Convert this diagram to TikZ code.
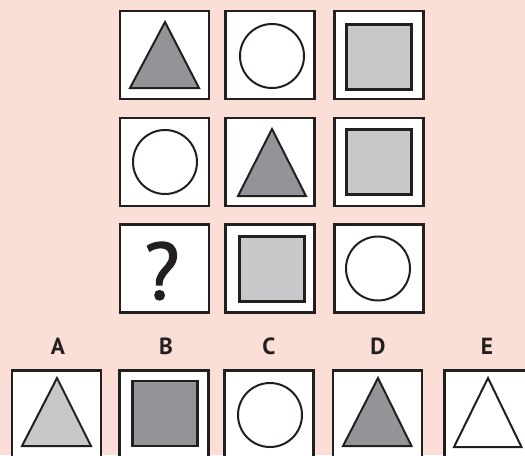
\documentclass[tikz,border=0pt]{standalone}
\usepackage{fontspec}
\setmainfont{PT Sans}
\newfontfamily\qmfont[FakeBold=1.8]{PT Sans}
\usetikzlibrary{calc}
\definecolor{bg}{HTML}{FBDED6}
\definecolor{ink}{HTML}{231F20}
\definecolor{dgray}{HTML}{939497}
\definecolor{lgray}{HTML}{C7C8CA}
\begin{document}
\begin{tikzpicture}[x=0.75pt,y=-0.75pt,
  box/.style={draw=ink, fill=white, line width=2.2pt, inner sep=0pt,
    minimum width=66.75pt, minimum height=66pt},
  lowbox/.style={box, minimum height=69.75pt},
  tri/.style={draw=ink, line width=1.5pt, line join=miter},
  circ/.style={circle, draw=ink, fill=white, line width=1.5pt, inner sep=0pt, minimum size=48pt},
  sq/.style={draw=ink, fill=lgray, line width=2.1pt, inner sep=0pt, minimum size=48.75pt},
  lab/.style={font=\bfseries\fontsize{17.5}{18}\selectfont, text=ink, inner sep=0pt}]
\useasboundingbox (0,0) rectangle (525,455);
\clip (0,0) rectangle (525,455);
\fill[bg] (0,0) rectangle (525,455);

% 3x3 grid
\node[box] (b11) at (164.5,55) {};
\node[box] (b12) at (270,55) {};
\node[box] (b13) at (379,55) {};
\node[box] (b21) at (164.5,162) {};
\node[box] (b22) at (270,162) {};
\node[box] (b23) at (379,162) {};
\node[box] (b31) at (164.5,268.5) {};
\node[box] (b32) at (270,268.5) {};
\node[box] (b33) at (379,268.5) {};

% row 1
\draw[tri, fill=dgray] ($(b11)+(0.5,-33)$) -- ($(b11)+(34.5,33)$) -- ($(b11)+(-34.5,33)$) -- cycle;
\node[circ] (c12) at ($(b12)+(2,1)$) {};
\node[sq] (s13) at ($(b13)+(0,2)$) {};
% row 2
\node[circ] (c21) at ($(b21)+(0.5,0)$) {};
\draw[tri, fill=dgray] ($(b22)+(2,-33)$) -- ($(b22)+(36,34)$) -- ($(b22)+(-32,34)$) -- cycle;
\node[sq] (s23) at ($(b23)+(0,0)$) {};
% row 3
\node[font=\qmfont\fontsize{60}{62}\selectfont, text=ink, inner sep=0pt] (q) at (162,271) {?};
\node[sq] (s32) at ($(b32)+(2,0.5)$) {};
\node[circ] (c33) at ($(b33)+(-1,0)$) {};

% answer labels
\node[lab] (la) at (58,346.5) {A};
\node[lab] (lb) at (166,346.5) {B};
\node[lab] (lc) at (269,346.5) {C};
\node[lab] (ld) at (378,346.5) {D};
\node[lab] (le) at (487,346.5) {E};

% answer boxes
\node[lowbox] (ba) at (56.5,417) {};
\node[lowbox] (bb) at (164,417) {};
\node[lowbox] (bc) at (269,417) {};
\node[lowbox] (bd) at (377.5,417) {};
\node[lowbox] (be) at (489,417) {};

\draw[tri, fill=lgray] ($(ba)+(0.5,-39)$) -- ($(ba)+(34.5,29)$) -- ($(ba)+(-34.5,29)$) -- cycle;
\node[sq, fill=dgray] (sb) at ($(bb)+(1,-3.5)$) {};
\node[circ] (cc) at ($(bc)+(1,-2)$) {};
\draw[tri, fill=dgray] ($(bd)+(0.5,-39)$) -- ($(bd)+(34,29)$) -- ($(bd)+(-34.5,29)$) -- cycle;
\draw[tri, fill=white] ($(be)+(-1,-39)$) -- ($(be)+(32.5,30)$) -- ($(be)+(-35,30)$) -- cycle;
\end{tikzpicture}
\end{document}
